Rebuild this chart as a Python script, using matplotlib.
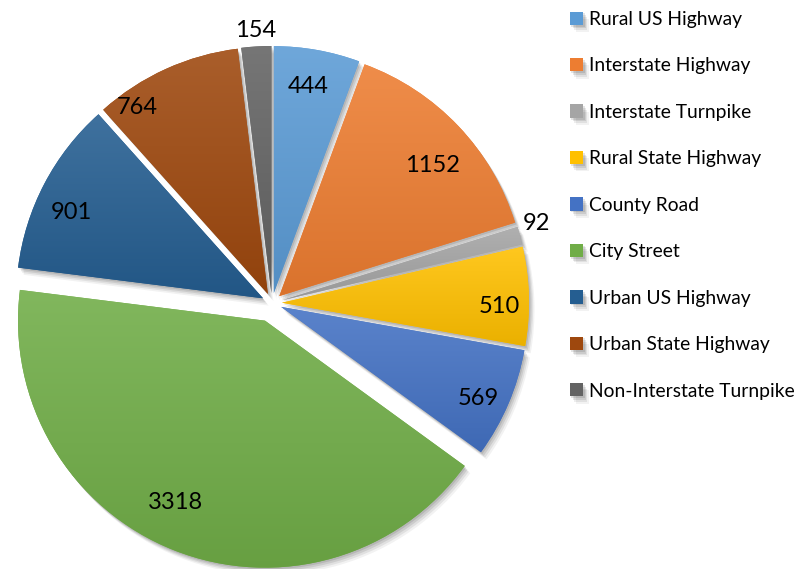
import numpy as np
import matplotlib
matplotlib.use("Agg")
import matplotlib.pyplot as plt
import matplotlib.patheffects as pe
import matplotlib.transforms as mtransforms
from matplotlib.colors import to_rgb

categories = ["Rural US Highway", "Interstate Highway", "Interstate Turnpike",
              "Rural State Highway", "County Road", "City Street",
              "Urban US Highway", "Urban State Highway", "Non-Interstate Turnpike"]
values = [444, 1152, 92, 510, 569, 3318, 901, 764, 154]
colors = ["#5B9BD5", "#ED7D31", "#A5A5A5", "#FFC000", "#4472C4", "#70AD47",
          "#255E91", "#9E480E", "#636363"]
explode = [10, 10, 10, 10, 10, 19, 10, 10, 10]
label_dist = [0.856, 0.819, 1.078, 0.879, 0.877, 0.813, 0.855, 0.93, 1.071]
label_turn = [0.8, -2.6, 2.0, -2.1, -1.4, -4.9, 3.1, 10.3, 0]

plt.rcParams['font.family'] = ['Lato', 'DejaVu Sans']

W, H = 801, 569
fig = plt.figure(figsize=(W / 100, H / 100), dpi=100)
ax = fig.add_axes([0, 0, 1, 1])

R = 247
center = (272, H - 303)
wedges, _ = ax.pie(values, explode=explode, colors=colors, startangle=90,
                   counterclock=False, radius=R, center=center,
                   wedgeprops=dict(linewidth=0))

def lighten(c, f):
    c = np.array(to_rgb(c))
    return c + (1 - c) * f

def darken(c, f):
    return np.array(to_rgb(c)) * (1 - f)

shadow = [pe.SimplePatchShadow(offset=(o, -o * 1.3), shadow_rgbFace='black', alpha=a)
          for o, a in ((4, 0.05), (3, 0.07), (2, 0.09), (1, 0.1))]
for w, c in zip(wedges, colors):
    w.set_path_effects(shadow + [pe.Normal()])
    verts = w.get_path().vertices
    x0, y0 = verts.min(axis=0)
    x1, y1 = verts.max(axis=0)
    top = lighten(c, 0.12)
    bot = darken(c, 0.08)
    t = np.linspace(0, 1, 64)[:, None]
    grad = (top[None, :] * (1 - t) + bot[None, :] * t)[:, None, :]
    im = ax.imshow(grad, extent=(x0, x1, y0, y1), origin='upper', aspect='auto',
                   zorder=w.get_zorder() + 0.1, interpolation='bilinear')
    im.set_clip_path(w)

fs = 17
digit_half = 0.72 * fs * 100 / 72 / 2
tr = mtransforms.offset_copy(ax.transData, fig=fig, y=-digit_half, units='dots')
for w, v, d, turn in zip(wedges, values, label_dist, label_turn):
    thetam = np.deg2rad((w.theta1 + w.theta2) / 2 + turn)
    cx, cy = w.center
    ax.text(cx + R * d * np.cos(thetam), cy + R * d * np.sin(thetam), str(v),
            ha='center', va='baseline', fontsize=fs, color='black', zorder=5,
            transform=tr)

ax.set_xlim(0, W)
ax.set_ylim(0, H)
ax.set_aspect('equal')
ax.axis('off')

leg = ax.legend(wedges, categories, loc='upper left', bbox_to_anchor=(570 / W, 1 - 11 / H),
                frameon=False, fontsize=13.9, handlelength=0.68, handleheight=0.68,
                handletextpad=0.3, labelspacing=1.525, borderaxespad=0, borderpad=0)
for t in leg.get_texts():
    t.set_color('black')

fig.savefig("out.png", dpi=100, facecolor='white')
